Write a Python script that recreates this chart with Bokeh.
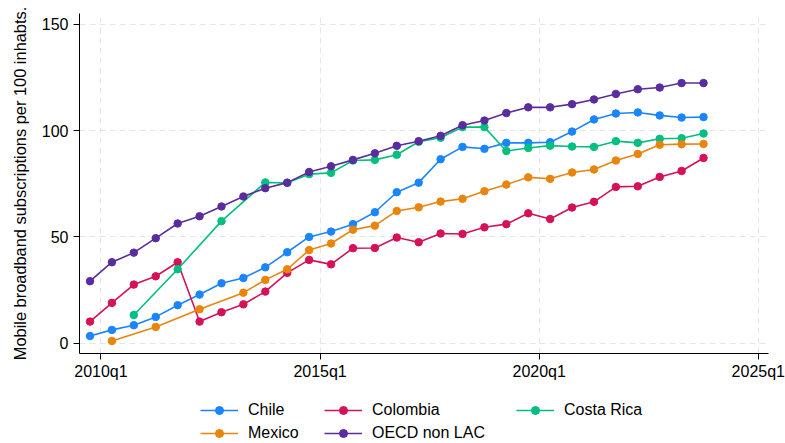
from bokeh.plotting import figure
from bokeh.models import Range1d, FixedTicker, Legend, LegendItem
from bokeh.layouts import column
from bokeh.embed import file_html
from bokeh.resources import INLINE

# ---------------- data ----------------
full_periods = ["2009q4", "2010q2", "2010q4", "2011q2", "2011q4", "2012q2", "2012q4",
                "2013q2", "2013q4", "2014q2", "2014q4", "2015q2", "2015q4", "2016q2",
                "2016q4", "2017q2", "2017q4", "2018q2", "2018q4", "2019q2", "2019q4",
                "2020q2", "2020q4", "2021q2", "2021q4", "2022q2", "2022q4", "2023q2",
                "2023q4"]

chile_periods = full_periods
chile = [3.4, 6.3, 8.5, 12.4, 17.9, 22.9, 28.2, 30.7, 35.7, 42.8, 50.0, 52.5, 56.0, 61.6,
         71.0, 75.5, 86.5, 92.3, 91.4, 94.2, 94.2, 94.5, 99.5, 105.2, 108.0, 108.5, 107.1,
         106.1, 106.3]

colombia_periods = full_periods
colombia = [10.2, 19.0, 27.6, 31.5, 38.1, 10.2, 14.6, 18.3, 24.3, 33.1, 39.2, 37.1, 44.7,
            44.8, 49.7, 47.5, 51.6, 51.4, 54.5, 56.0, 61.1, 58.4, 63.8, 66.5, 73.5, 73.8,
            78.2, 81.0, 87.1]

costa_rica_periods = ["2010q4", "2011q4", "2012q4", "2013q4", "2014q2", "2014q4", "2015q2",
                      "2015q4", "2016q2", "2016q4", "2017q2", "2017q4", "2018q2", "2018q4",
                      "2019q2", "2019q4", "2020q2", "2020q4", "2021q2", "2021q4", "2022q2",
                      "2022q4", "2023q2", "2023q4"]
costa_rica = [13.3, 34.8, 57.4, 75.6, 75.4, 79.5, 80.1, 85.9, 86.2, 88.6, 94.7, 96.6, 101.6,
              101.6, 90.4, 91.8, 92.9, 92.5, 92.3, 95.0, 94.2, 96.1, 96.4, 98.6]

mexico_periods = ["2010q2", "2011q2", "2012q2", "2013q2", "2013q4", "2014q2", "2014q4",
                  "2015q2", "2015q4", "2016q2", "2016q4", "2017q2", "2017q4", "2018q2",
                  "2018q4", "2019q2", "2019q4", "2020q2", "2020q4", "2021q2", "2021q4",
                  "2022q2", "2022q4", "2023q2", "2023q4"]
mexico = [1.1, 7.7, 16.0, 23.8, 29.8, 34.8, 43.8, 46.9, 53.4, 55.3, 62.2, 63.9, 66.6, 67.9,
          71.5, 74.6, 78.0, 77.3, 80.3, 81.7, 85.9, 89.0, 93.3, 93.6, 93.7]

oecd_periods = full_periods
oecd = [29.2, 38.1, 42.6, 49.4, 56.3, 59.7, 64.3, 69.0, 72.9, 75.5, 80.5, 83.2, 86.2, 89.3,
        92.8, 95.0, 97.5, 102.5, 104.7, 108.2, 110.9, 110.9, 112.4, 114.6, 117.2, 119.4,
        120.2, 122.3, 122.3]

x_tick_labels = ["2010q1", "2015q1", "2020q1", "2025q1"]
y_ticks = [0, 50, 100, 150]
y_title = "Mobile broadband subscriptions per 100 inhabts."


def qidx(s):
    y, q = s.split("q")
    return (int(y) - 2010) * 4 + int(q) - 1


series = [
    ("Chile", chile_periods, chile, "#1a85ff"),
    ("Colombia", colombia_periods, colombia, "#d41159"),
    ("Costa Rica", costa_rica_periods, costa_rica, "#00bf7f"),
    ("Mexico", mexico_periods, mexico, "#e8850c"),
    ("OECD non LAC", oecd_periods, oecd, "#5a2d9e"),
]

FONT = "Liberation Sans"

p = figure(width=785, height=390, output_backend="svg", toolbar_location=None,
           x_range=Range1d(-1.96, 60.93), y_range=Range1d(-4.8, 155.0),
           min_border_left=79, min_border_right=17, min_border_top=13,
           min_border_bottom=37)
p.outline_line_color = None
p.background_fill_color = "white"
p.border_fill_color = "white"

# axes
p.xaxis.ticker = FixedTicker(ticks=[qidx(s) for s in x_tick_labels])
p.xaxis.major_label_overrides = {qidx(s): s for s in x_tick_labels}
p.yaxis.ticker = FixedTicker(ticks=y_ticks)
for ax in (p.xaxis, p.yaxis):
    ax.axis_line_color = "black"
    ax.axis_line_width = 1
    ax.major_tick_line_color = "black"
    ax.major_tick_in = 0
    ax.major_tick_out = 6
    ax.minor_tick_line_color = None
    ax.major_label_text_font = FONT
    ax.major_label_text_font_size = "16px"
    ax.major_label_text_color = "black"
p.xaxis.major_label_standoff = 3
p.yaxis.major_label_standoff = 5
p.yaxis.axis_label = y_title
p.yaxis.axis_label_text_font = FONT
p.yaxis.axis_label_text_font_size = "16.4px"
p.yaxis.axis_label_text_font_style = "normal"
p.yaxis.axis_label_text_color = "black"
p.yaxis.axis_label_standoff = 10

for g in (p.xgrid, p.ygrid):
    g.grid_line_color = "#e6e6e6"
    g.grid_line_dash = "6 4"
    g.grid_line_width = 1
p.xgrid.ticker = p.xaxis.ticker
p.ygrid.ticker = p.yaxis.ticker

# legend figure below the main plot (its frame is aligned with the main frame)
lf = figure(width=785, height=53, output_backend="svg", toolbar_location=None,
            x_axis_location=None, y_axis_location=None,
            x_range=Range1d(0, 1), y_range=Range1d(0, 1),
            min_border_left=79, min_border_right=17, min_border_top=0,
            min_border_bottom=0)
lf.outline_line_color = None
lf.xgrid.visible = False
lf.ygrid.visible = False
lf.background_fill_color = "white"
lf.border_fill_color = "white"

items = {}
for name, periods, vals, color in series:
    xs = [qidx(s) for s in periods]
    p.line(xs, vals, line_color=color, line_width=1.6)
    p.scatter(xs, vals, size=7.5, fill_color=color, line_color=color, marker="circle")
    # off-screen proxies, only used for the legend keys
    lr = lf.line([-10, -9], [-10, -9], line_color=color, line_width=1.3)
    sr = lf.scatter([-10], [-10], size=5.5, fill_color=color, line_color=color,
                    marker="circle")
    items[name] = LegendItem(label=name, renderers=[lr, sr])


def make_legend(names, loc):
    lg = Legend(items=[items[n] for n in names], location=loc,
                orientation="vertical", padding=0, margin=0, spacing=3,
                glyph_width=38, glyph_height=20, label_height=20,
                label_standoff=10, label_text_font=FONT,
                label_text_font_size="16px", label_text_color="black",
                border_line_alpha=0, background_fill_alpha=0)
    lf.add_layout(lg, "center")


make_legend(["Chile", "Mexico"], (121, 0))
make_legend(["Colombia", "OECD non LAC"], (245, 0))
make_legend(["Costa Rica"], (437, 23))

layout = column(p, lf, spacing=0)
open("out.html", "w").write(file_html(layout, INLINE))
